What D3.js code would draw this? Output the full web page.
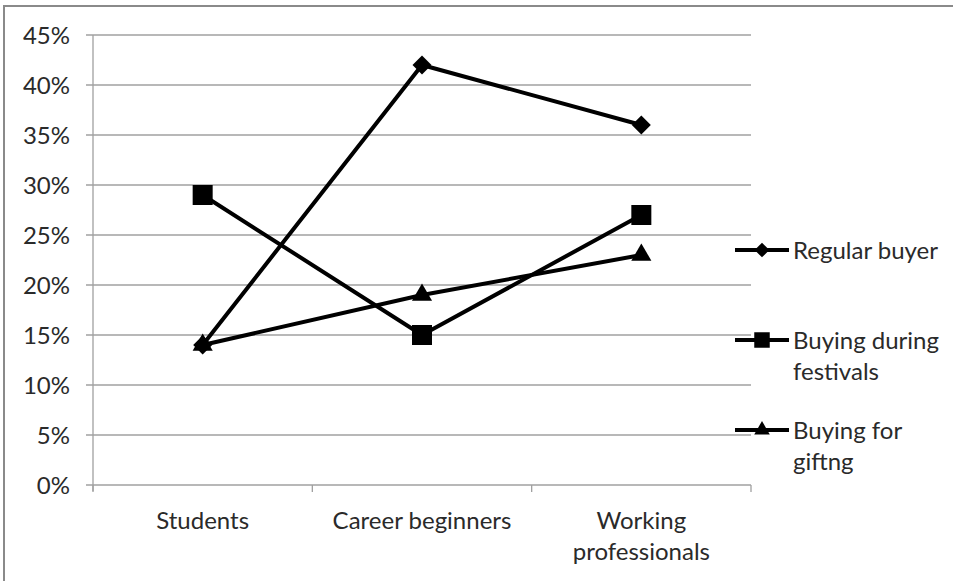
<!DOCTYPE html>
<html>
<head>
<meta charset="utf-8">
<script src="https://cdn.jsdelivr.net/npm/d3@7"></script>
<style>
  html, body { margin: 0; padding: 0; background: #fff; }
  svg { display: block; }
  text { font-family: Lato, "Open Sans", sans-serif; fill: #2a2a2a; }
</style>
</head>
<body>
<svg id="chart" width="953" height="581"></svg>
<script>
// Audience segments along the x axis
const categories = ["Students", "Career beginners", "Working professionals"];
// Share of respondents (%) per segment
const regularBuyer = [14, 42, 36];
const buyingDuringFestivals = [29, 15, 27];
const buyingForGifting = [14, 19, 23];
const seriesNames = ["Regular buyer", "Buying during festivals", "Buying for giftng"];
const yTicks = [0, 5, 10, 15, 20, 25, 30, 35, 40, 45];

const series = [
  { name: seriesNames[0], values: regularBuyer, symbol: d3.symbolDiamond2, size: 230, labelLines: ["Regular buyer"] },
  { name: seriesNames[1], values: buyingDuringFestivals, symbol: d3.symbolSquare2, size: 510, labelLines: ["Buying during", "festivals"] },
  { name: seriesNames[2], values: buyingForGifting, symbol: d3.symbolTriangle2, size: 290, labelLines: ["Buying for", "giftng"] }
];

const fontSize = "24px";
const svg = d3.select("#chart");

// outer chart frame
svg.append("rect")
  .attr("x", 4).attr("y", 6)
  .attr("width", 980).attr("height", 620)
  .attr("fill", "none").attr("stroke", "#8a8a8a").attr("stroke-width", 2);

const plot = { left: 93, right: 751, top: 35, bottom: 485 };

const x = d3.scaleBand().domain(categories).range([plot.left, plot.right]);
const y = d3.scaleLinear().domain([0, 45]).range([plot.bottom, plot.top]);

// horizontal gridlines with short outward ticks
svg.append("g").selectAll("line").data(yTicks).join("line")
  .attr("x1", plot.left - 7).attr("x2", plot.right)
  .attr("y1", d => y(d)).attr("y2", d => y(d))
  .attr("stroke", "#a0a0a0").attr("stroke-width", 1.3);

// y axis line
svg.append("line")
  .attr("x1", plot.left).attr("x2", plot.left)
  .attr("y1", plot.top).attr("y2", plot.bottom + 6)
  .attr("stroke", "#a0a0a0").attr("stroke-width", 1.3);

// y tick labels
svg.append("g").selectAll("text").data(yTicks).join("text")
  .attr("x", 70).attr("y", d => y(d))
  .attr("dy", "0.36em")
  .attr("text-anchor", "end")
  .style("font-size", fontSize)
  .text(d => d + "%");

// x category boundary ticks
const boundaries = categories.map(c => x(c)).concat([x(categories[categories.length - 1]) + x.bandwidth()]);
svg.append("g").selectAll("line").data(boundaries).join("line")
  .attr("x1", d => d).attr("x2", d => d)
  .attr("y1", plot.bottom).attr("y2", plot.bottom + 7)
  .attr("stroke", "#a0a0a0").attr("stroke-width", 1.3);

// x category labels (wrapped)
const wrapLabel = c => c === "Working professionals" ? ["Working", "professionals"] : [c];
const xLabels = svg.append("g").selectAll("text").data(categories).join("text")
  .attr("x", d => x(d) + x.bandwidth() / 2)
  .attr("y", 529)
  .attr("text-anchor", "middle")
  .style("font-size", fontSize);
xLabels.each(function (d) {
  const t = d3.select(this);
  wrapLabel(d).forEach((line, i) => {
    t.append("tspan").attr("x", x(d) + x.bandwidth() / 2).attr("dy", i === 0 ? 0 : 31).text(line);
  });
});

const cx = (d, i) => x(categories[i]) + x.bandwidth() / 2;
const line = d3.line().x((d, i) => cx(d, i)).y(d => y(d));

// series lines
svg.append("g").selectAll("path").data(series).join("path")
  .attr("d", s => line(s.values))
  .attr("fill", "none").attr("stroke", "#000").attr("stroke-width", 4)
  .attr("stroke-linejoin", "round");

// series markers
series.forEach(s => {
  svg.append("g").selectAll("path").data(s.values).join("path")
    .attr("transform", (d, i) => `translate(${cx(d, i)},${y(d)})`)
    .attr("d", d3.symbol().type(s.symbol).size(s.size))
    .attr("fill", "#000");
});

// legend
const legendY = [250, 340, 430];
const leg = svg.append("g").selectAll("g").data(series).join("g")
  .attr("transform", (s, i) => `translate(735,${legendY[i]})`);
leg.append("line")
  .attr("x1", 0).attr("x2", 54).attr("y1", 0).attr("y2", 0)
  .attr("stroke", "#000").attr("stroke-width", 4);
leg.append("path")
  .attr("transform", "translate(27,0)")
  .attr("d", s => d3.symbol().type(s.symbol).size(s.size * 0.6)())
  .attr("fill", "#000");
leg.append("text")
  .attr("x", 58).attr("y", 0)
  .style("font-size", fontSize)
  .each(function (s) {
    const t = d3.select(this);
    s.labelLines.forEach((l, i) => t.append("tspan").attr("x", 58).attr("dy", i === 0 ? "0.36em" : 31).text(l));
  });
</script>
</body>
</html>
